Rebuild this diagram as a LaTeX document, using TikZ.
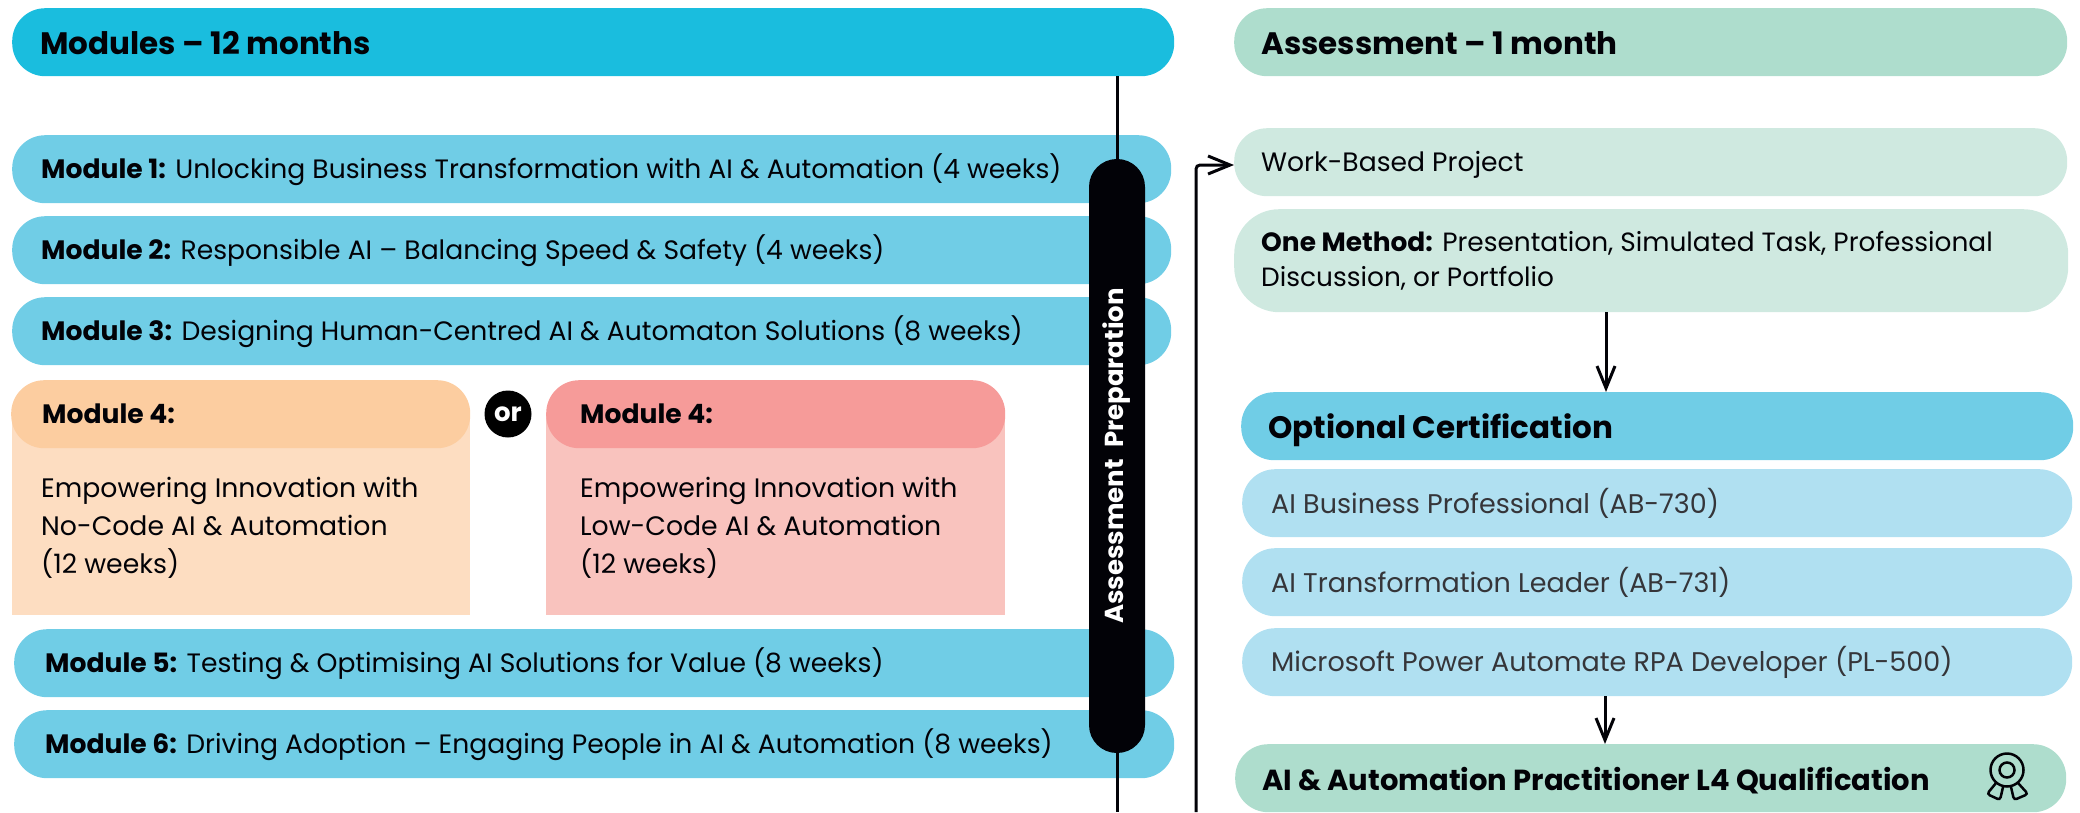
\documentclass[tikz,border=0pt]{standalone}
\usepackage{fontspec}
\setmainfont{Poppins}
\usetikzlibrary{arrows.meta}

\definecolor{modtop}{HTML}{1ABDDE}
\definecolor{modblue}{HTML}{70CDE6}
\definecolor{assessgreen}{HTML}{AEDDCD}
\definecolor{assesslight}{HTML}{CFE9E0}
\definecolor{certlight}{HTML}{B0E0F1}
\definecolor{orangehead}{HTML}{FCCDA0}
\definecolor{orangebody}{HTML}{FDDDC1}
\definecolor{redhead}{HTML}{F69B99}
\definecolor{redbody}{HTML}{F9C3BE}
\definecolor{inkblack}{HTML}{020207}

\tikzset{
    pill/.style={anchor=north west, rounded corners=33pt, minimum height=68pt,
        inner xsep=14pt, inner ysep=0pt, align=flush left, text=inkblack,
        font=\fontsize{26.6}{37}\selectfont},
    headpill/.style={pill, text height=30pt, text depth=6pt, font=\fontsize{31}{37}\selectfont\bfseries},
    bodytext/.style={anchor=north west, inner sep=0pt, align=flush left, text=inkblack,
        font=\fontsize{26.7}{38}\selectfont},
    link/.style={line width=3pt, inkblack},
    flow/.style={link, -{Straight Barb[length=22pt, width=18pt, line width=3pt]}}
}

\begin{document}
\begin{tikzpicture}[x=1pt, y=-1pt]

    % Fix the page to the size of the reference
    \useasboundingbox (0,0) rectangle (2080,812);

    % Left column: title bar
    \node[headpill, fill=modtop, minimum width=1162pt, text width=1134pt] (modules) at (12,8) {\hspace*{14pt}Modules – 12 months};

    % Modules 1 to 3
    \node[pill, fill=modblue, minimum width=1159pt, text width=1131pt] (modone) at (12,135) {\hspace*{15pt}\textbf{Module 1:} Unlocking Business Transformation with AI \& Automation (4 weeks)};
    \node[pill, fill=modblue, minimum width=1159pt, text width=1131pt] (modtwo) at (12,216) {\hspace*{15pt}\textbf{Module 2:} Responsible AI – Balancing Speed \& Safety (4 weeks)};
    \node[pill, fill=modblue, minimum width=1159pt, text width=1131pt] (modthree) at (12,297) {\hspace*{15pt}\textbf{Module 3:} Designing Human-Centred AI \& Automaton Solutions (8 weeks)};

    % The two choices for module 4, each a panel with a pill on top
    \fill[orangebody] (12,414) rectangle (470,615);
    \node[pill, fill=orangehead, minimum width=459pt, text width=431pt] (nocodehead) at (11,380) {\hspace*{17pt}\textbf{Module 4:}};
    \node[bodytext] (nocodetext) at (41,477) {Empowering Innovation with\\No-Code AI \& Automation\\(12 weeks)};

    \fill[redbody] (546,414) rectangle (1005,615);
    \node[pill, fill=redhead, minimum width=459pt, text width=431pt] (lowcodehead) at (546,380) {\hspace*{20pt}\textbf{Module 4:}};
    \node[bodytext] (lowcodetext) at (580,477) {Empowering Innovation with\\Low-Code AI \& Automation\\(12 weeks)};

    % The or between the panels
    \node[circle, fill=black, text=white, minimum size=47pt, inner sep=0pt, font=\fontsize{26}{30}\selectfont\bfseries] (orchoice) at (508,414) {or};

    % Modules 5 and 6
    \node[pill, fill=modblue, minimum width=1160pt, text width=1132pt] (modfive) at (14,629) {\hspace*{17pt}\textbf{Module 5:} Testing \& Optimising AI Solutions for Value (8 weeks)};
    \node[pill, fill=modblue, minimum width=1160pt, text width=1132pt] (modsix) at (14,710) {\hspace*{17pt}\textbf{Module 6:} Driving Adoption – Engaging People in AI \& Automation (8 weeks)};

    % The black preparation bar across the modules
    \coordinate (prepend) at (1117,812);
    \node[fill=inkblack, text=white, rotate=90, rounded corners=27.9pt, minimum width=594pt, minimum height=56pt, inner sep=0pt, font=\fontsize{26}{30}\selectfont\bfseries] (prep) at (1117,456) {Assessment\ \ Preparation\hspace{6pt}};
    \draw[link] (modules.south -| prep.east) -- (prep.east);
    \draw[link] (prep.west) -- (prepend);

    % Right column: assessment
    \node[headpill, fill=assessgreen, minimum width=833pt, text width=805pt] (assess) at (1234,8) {\hspace*{13pt}Assessment – 1 month};
    \node[pill, fill=assesslight, minimum width=833pt, text width=805pt, text height=26pt, text depth=8pt] (project) at (1234,128) {\hspace*{13pt}Work-Based Project};
    \node[pill, fill=assesslight, minimum width=833pt, minimum height=103pt, text width=780pt, inner xsep=27pt, rounded corners=45pt, font=\fontsize{26.4}{35}\selectfont] (method) at (1234,209) {\textbf{One Method:} Presentation, Simulated Task, Professional\\Discussion, or Portfolio};

    % Line coming up from below into the project box
    \coordinate (feedstart) at (1196,812);
    \coordinate (feedturn) at (1196,165);
    \draw[flow, rounded corners=4pt] (feedstart) -- (feedturn) -- (project.west |- feedturn);

    % Optional certification
    \node[headpill, fill=modblue, minimum width=832pt, text width=804pt] (cert) at (1241,392) {\hspace*{13pt}Optional Certification};
    \node[pill, fill=certlight, minimum width=830pt, text width=802pt, text=inkblack!80, font=\fontsize{27}{37}\selectfont] (certone) at (1242,469) {\hspace*{15pt}AI Business Professional (AB-730)};
    \node[pill, fill=certlight, minimum width=830pt, text width=802pt, text=inkblack!80, font=\fontsize{27}{37}\selectfont] (certtwo) at (1242,548) {\hspace*{15pt}AI Transformation Leader (AB-731)};
    \node[pill, fill=certlight, minimum width=830pt, text width=802pt, text=inkblack!80, font=\fontsize{27}{37}\selectfont] (certthree) at (1242,628) {\hspace*{15pt}Microsoft Power Automate RPA Developer (PL-500)};

    % Qualification at the bottom
    \node[headpill, fill=assessgreen, minimum width=831pt, text width=803pt, font=\fontsize{29}{37}\selectfont\bfseries] (qual) at (1235,744) {\hspace*{13pt}AI \& Automation Practitioner L4 Qualification};

    % Arrows between the blocks
    \draw[flow] (method.south -| 1606,0) -- (cert.north -| 1606,0);
    \draw[flow] (certthree.south -| 1605,0) -- (qual.north -| 1605,0);

    % Medal icon
    \draw[line width=2.5pt, inkblack] (2007,770) circle (16.5);
    \draw[line width=2.5pt, inkblack] (2007,770) circle (7.5);
    \draw[line width=2.5pt, inkblack, rounded corners=3pt] (1996,783) -- (1987,794) -- (2000,800) -- (2003,787);
    \draw[line width=2.5pt, inkblack, rounded corners=3pt] (2018,783) -- (2028,794) -- (2014,800) -- (2011,787);

\end{tikzpicture}
\end{document}
